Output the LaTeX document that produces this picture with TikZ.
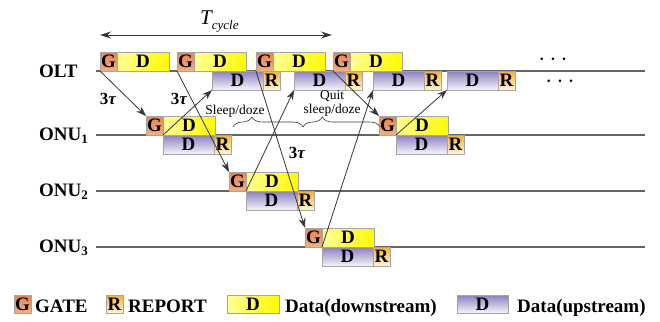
\documentclass[tikz,border=0pt]{standalone}
\usepackage{fontspec}
\setmainfont{Liberation Serif}
\usetikzlibrary{arrows.meta,decorations.pathreplacing}
\definecolor{gtop}{RGB}{228,132,80}
\definecolor{gbot}{RGB}{242,176,134}
\definecolor{rtop}{RGB}{247,178,50}
\definecolor{rbot}{RGB}{255,245,215}
\definecolor{ylft}{RGB}{255,255,150}
\definecolor{yrgt}{RGB}{255,250,0}
\definecolor{ptop}{RGB}{140,128,190}
\definecolor{pbot}{RGB}{246,244,251}
\definecolor{boxline}{RGB}{165,165,165}
\definecolor{linegray}{RGB}{100,100,100}
\definecolor{arrowgray}{RGB}{55,55,55}
\begin{document}
\begin{tikzpicture}[x=1pt,y=-1pt,
  box/.style={draw=boxline, line width=0.5pt, inner sep=0pt, outer sep=0pt,
    minimum height=19pt, font=\fontsize{19}{19}\selectfont\bfseries,
    text height=12.6pt, text depth=0pt},
  gbox/.style={box, minimum width=17pt, top color=gtop, bottom color=gbot},
  rbox/.style={box, minimum width=17pt, top color=rtop, bottom color=rbot},
  dnbox/.style={box, minimum width=52pt, left color=ylft, right color=yrgt},
  upbox/.style={box, minimum width=51pt, top color=ptop, bottom color=pbot},
  tline/.style={draw=linegray, line width=1.4pt},
  sig/.style={draw=arrowgray, line width=0.8pt, -{Stealth[length=10pt,width=7pt]}},
  lbl/.style={font=\fontsize{19}{19}\selectfont\bfseries, inner sep=0pt, anchor=west,
    text height=12.6pt, text depth=0pt},
  small/.style={font=\fontsize{13.5}{14}\selectfont, inner sep=0pt},
  tau/.style={font=\fontsize{17}{17}\selectfont\bfseries, inner sep=0pt},
  brc/.style={draw=arrowgray, line width=0.6pt, decorate},
  dotsty/.style={font=\fontsize{24}{24}\selectfont, inner sep=0pt},
]
\fill[white] (0,0) rectangle (660,321);
\useasboundingbox (0,0) rectangle (660,321);

% time lines
\coordinate (L0a) at (96,71);  \coordinate (L0b) at (645,71);
\coordinate (L1a) at (96,135); \coordinate (L1b) at (645,135);
\coordinate (L2a) at (96,191); \coordinate (L2b) at (645,191);
\coordinate (L3a) at (96,247); \coordinate (L3b) at (645,247);
\draw[tline] (L0a) -- (L0b);
\draw[tline] (L1a) -- (L1b);
\draw[tline] (L2a) -- (L2b);
\draw[tline] (L3a) -- (L3b);

% row labels
\node[lbl] (tOLT) at (39,71) {OLT};
\node[lbl] (tN1) at (39,134) {ONU\raisebox{-3.5pt}{\fontsize{13}{13}\selectfont 1}};
\node[lbl] (tN2) at (39,190) {ONU\raisebox{-3.5pt}{\fontsize{13}{13}\selectfont 2}};
\node[lbl] (tN3) at (39,246) {ONU\raisebox{-3.5pt}{\fontsize{13}{13}\selectfont 3}};

% T cycle
\coordinate (tcA) at (100,35); \coordinate (tcB) at (332,35);
\draw[arrowgray, line width=0.9pt, {Stealth[length=11pt,width=7pt]}-{Stealth[length=11pt,width=7pt]}] (tcA) -- (tcB);
\node[anchor=base west, inner sep=0pt] (tT) at (200,25) {\fontsize{21}{21}\selectfont\itshape T\raisebox{-5pt}{\fontsize{13}{13}\selectfont cycle}};

% OLT downstream
\node[gbox, anchor=south west] (og1) at (100,71) {G};
\node[dnbox, anchor=south west] (od1) at (og1.south east) {D};
\node[gbox, anchor=south west] (og2) at (177,71) {G};
\node[dnbox, anchor=south west] (od2) at (og2.south east) {D};
\node[gbox, anchor=south west] (og3) at (256,71) {G};
\node[dnbox, anchor=south west] (od3) at (og3.south east) {D};
\node[gbox, anchor=south west] (og4) at (333,71) {G};
\node[dnbox, anchor=south west] (od4) at (og4.south east) {D};

% OLT upstream
\node[upbox, anchor=north west] (ou1) at (212,71) {D};
\node[rbox, anchor=north west] (or1) at (ou1.north east) {R};
\node[upbox, anchor=north west] (ou2) at (294,71) {D};
\node[rbox, anchor=north west] (or2) at (ou2.north east) {R};
\node[upbox, anchor=north west] (ou3) at (373,71) {D};
\node[rbox, anchor=north west] (or3) at (ou3.north east) {R};
\node[upbox, anchor=north west] (ou4) at (447,71) {D};
\node[rbox, anchor=north west] (or4) at (ou4.north east) {R};

\node[dotsty] (dots1) at (553,60) {$\cdots$};
\node[dotsty] (dots2) at (560,82) {$\cdots$};

% ONU1
\node[gbox, anchor=south west] (n1g) at (146,135) {G};
\node[dnbox, anchor=south west] (n1d) at (n1g.south east) {D};
\node[upbox, anchor=north west] (n1u) at (n1g.south east) {D};
\node[rbox, anchor=north west] (n1r) at (n1u.north east) {R};
\node[gbox, anchor=south west] (n1gb) at (379,135) {G};
\node[dnbox, anchor=south west] (n1db) at (n1gb.south east) {D};
\node[upbox, anchor=north west] (n1ub) at (n1gb.south east) {D};
\node[rbox, anchor=north west] (n1rb) at (n1ub.north east) {R};

% ONU2
\node[gbox, anchor=south west] (n2g) at (229,191) {G};
\node[dnbox, anchor=south west] (n2d) at (n2g.south east) {D};
\node[upbox, anchor=north west] (n2u) at (n2g.south east) {D};
\node[rbox, anchor=north west] (n2r) at (n2u.north east) {R};

% ONU3
\node[gbox, anchor=south west] (n3g) at (305,247) {G};
\node[dnbox, anchor=south west] (n3d) at (n3g.south east) {D};
\node[upbox, anchor=north west] (n3u) at (n3g.south east) {D};
\node[rbox, anchor=north west] (n3r) at (n3u.north east) {R};

% signalling arrows
\draw[sig] (og1.south west) -- (n1g.north west);
\draw[sig] (n1u.north west) -- (ou1.south west);
\draw[sig] (og2.south west) -- (n2g.north west);
\draw[sig] (n2u.north west) -- (ou2.south west);
\draw[sig] (og3.south west) -- (n3g.north west);
\draw[sig] (n3u.north west) -- (ou3.south west);
\draw[sig] (og4.south west) -- (n1gb.north west);
\draw[sig] (n1ub.north west) -- (ou4.south west);

% 3tau labels
\node[tau] (t1) at (108,99) {3\textit{τ}};
\node[tau] (t2) at (179,99) {3\textit{τ}};
\node[tau] (t3) at (297,153) {3\textit{τ}};

% braces
\coordinate (b1a) at (233,127); \coordinate (b1b) at (303,127);
\coordinate (b2a) at (303,127); \coordinate (b2b) at (380,127);
\draw[brc, decoration={brace, amplitude=10pt, aspect=0.27}] (b1a) -- (b1b);
\draw[brc, decoration={brace, amplitude=10pt, aspect=0.25}] (b2a) -- (b2b);
\node[small, anchor=base] (sd) at (235,114) {Sleep/doze};
\node[small, anchor=south, align=center] (qsd) at (332,117) {Quit\\sleep/doze};

% legend
\node[gbox, anchor=west, minimum height=18pt] (lg) at (14,304) {G};
\node[lbl] (lgt) at (35,306) {GATE};
\node[rbox, anchor=west, minimum height=18pt] (lr) at (106,304) {R};
\node[lbl] (lrt) at (128,306) {REPORT};
\node[dnbox, anchor=west, minimum height=18pt] (ld) at (227,304) {D};
\node[lbl] (ldt) at (285,306) {Data(downstream)};
\node[upbox, anchor=west, minimum height=18pt] (lu) at (457,304) {D};
\node[lbl] (lut) at (517,306) {Data(upstream)};
\end{tikzpicture}
\end{document}
